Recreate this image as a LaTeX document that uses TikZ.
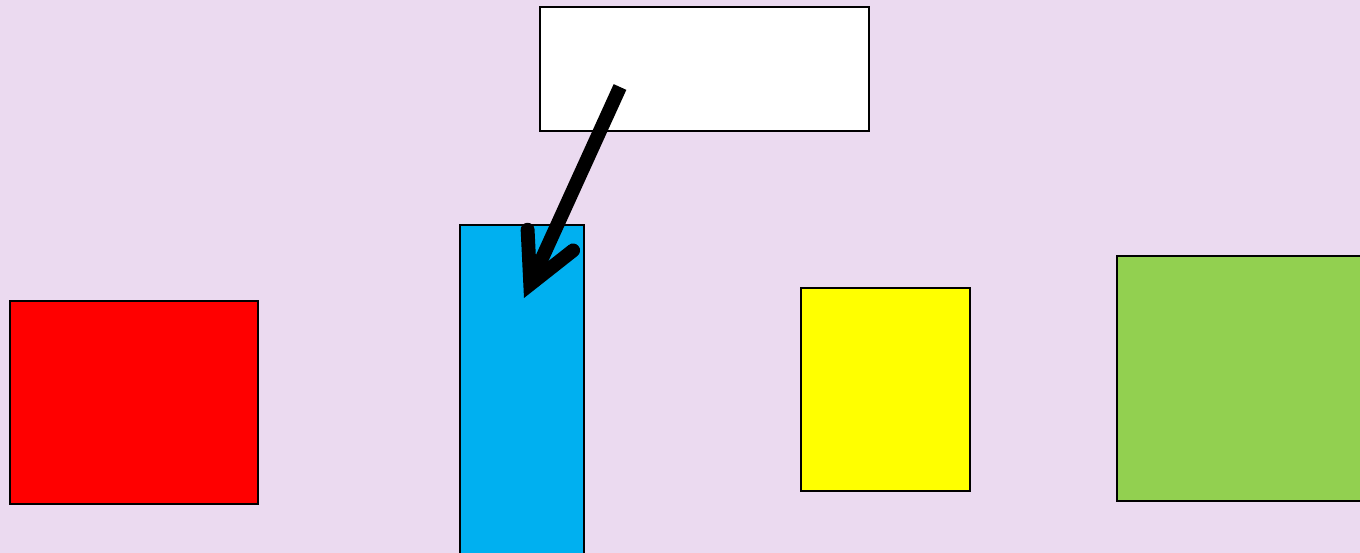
\documentclass[tikz,border=0pt]{standalone}
\usepackage{tikz}
\usetikzlibrary{arrows.meta,positioning}
\definecolor{BgLilac}{RGB}{235,218,240}
\definecolor{BoxRed}{RGB}{255,0,0}
\definecolor{BoxBlue}{RGB}{0,176,240}
\definecolor{BoxYellow}{RGB}{255,255,0}
\definecolor{BoxGreen}{RGB}{146,208,80}
\begin{document}
\begin{tikzpicture}[
        x=0.02cm,y=-0.02cm,
        box/.style={rectangle,draw=black,line width=1.1pt,inner sep=0pt},
        pointer/.style={draw=black,line width=7.9pt,
          -{Straight Barb[length=0.97cm,width=1cm,line width=7.9pt,line cap=round,line join=miter]}}]
        \useasboundingbox (0,0) rectangle (1360,553);
        \fill[BgLilac] (0,0) rectangle (1360,553);
        \clip (0,0) rectangle (1360,553);
        \node[box,fill=white,minimum width=6.58cm,minimum height=2.48cm] (label) at (704.5,69) {};
        \node[box,fill=BoxRed,minimum width=4.96cm,minimum height=4.06cm] (red) at (134,402.5) {};
        \node[box,fill=BoxBlue,minimum width=2.48cm,minimum height=7.5cm] (blue) at (522,412.5) {};
        \node[box,fill=BoxYellow,minimum width=3.38cm,minimum height=4.06cm] (yellow) at (885.5,389.5) {};
        \node[box,fill=BoxGreen,minimum width=5.66cm,minimum height=4.9cm] (green) at (1258.5,378.5) {};
        \coordinate (from) at (620,87);
        \coordinate (to) at (524,298);
        \draw[pointer] (from)--(to);
      \end{tikzpicture}
\end{document}
